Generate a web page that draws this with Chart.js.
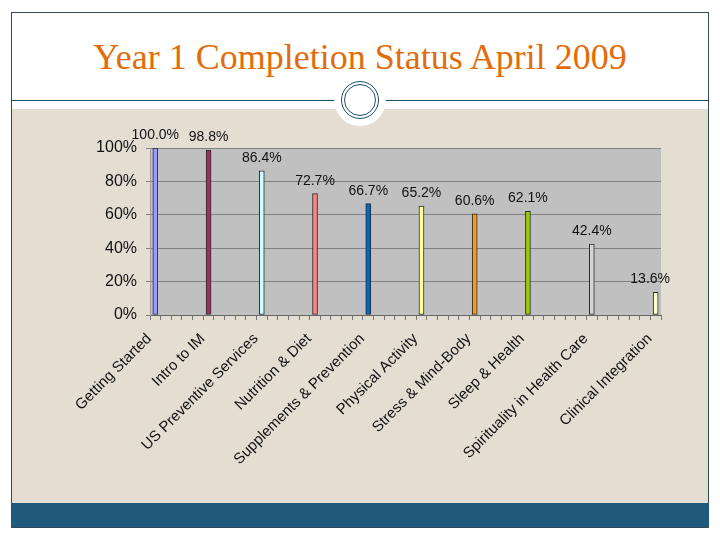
<!DOCTYPE html>
<html lang="en">
  <head>
    <meta charset="UTF-8" />
    <title>Year 1 Completion Status April 2009</title>
    <script src="https://cdn.jsdelivr.net/npm/chart.js"></script>
    <style>
      html, body {
        margin: 0;
        padding: 0;
        width: 720px;
        height: 540px;
        background: #ffffff;
        overflow: hidden;
      }
      .frame {
        position: absolute;
        left: 11px;
        top: 12px;
        width: 696px;
        height: 514px;
        border: 1px solid #2e4a5c;
      }
      .title {
        position: absolute;
        left: 0;
        top: 37px;
        width: 720px;
        text-align: center;
        font-family: "Liberation Serif", "DejaVu Serif", serif;
        font-size: 36px;
        line-height: 40px;
        color: #e36c0a;
      }
      .rule {
        position: absolute;
        left: 12px;
        top: 100px;
        width: 696px;
        height: 1px;
        background: #1f4e6b;
      }
      .beige {
        position: absolute;
        left: 12px;
        top: 109px;
        width: 696px;
        height: 394px;
        background: #e3ddd2;
      }
      .halo {
        position: absolute;
        left: 334px;
        top: 74px;
        width: 52px;
        height: 52px;
        border-radius: 50%;
        background: #ffffff;
      }
      .ring {
        position: absolute;
        left: 341px;
        top: 81px;
        width: 30px;
        height: 30px;
        border-radius: 50%;
        border: 4px double #1f4e6b;
      }
      .footer {
        position: absolute;
        left: 11px;
        top: 503px;
        width: 698px;
        height: 24px;
        background: #1f5a7c;
      }
      #wrap {
        position: absolute;
        left: 0;
        top: 0;
        width: 720px;
        height: 540px;
      }
    </style>
  </head>
  <body>
    <div class="frame"></div>
    <div class="title">Year 1 Completion Status April 2009</div>
    <div class="rule"></div>
    <div class="beige"></div>
    <div class="halo"></div>
    <div class="ring"></div>
    <div class="footer"></div>
    <div id="wrap"><canvas id="completionChart"></canvas></div>

    <script>
      // the source sheet has blank columns between the courses
      const categories = [
        "Getting Started", "", "", "", "",
        "Intro to IM", "", "", "", "",
        "US Preventive Services", "", "", "", "",
        "Nutrition & Diet", "", "", "", "",
        "Supplements & Prevention", "", "", "", "",
        "Physical Activity", "", "", "", "",
        "Stress & Mind-Body", "", "", "", "",
        "Sleep & Health", "", "", "", "", "",
        "Spirituality in Health Care", "", "", "", "", "",
        "Clinical Integration",
      ];
      const completion = [
        100.0, null, null, null, null,
        98.8, null, null, null, null,
        86.4, null, null, null, null,
        72.7, null, null, null, null,
        66.7, null, null, null, null,
        65.2, null, null, null, null,
        60.6, null, null, null, null,
        62.1, null, null, null, null, null,
        42.4, null, null, null, null, null,
        13.6,
      ];
      const barColors = [
        "#9999ff", "#993366", "#ccffff", "#ff8080", "#0066cc",
        "#ffff99", "#f39a1e", "#99cc00", "#d4d4d4", "#ffffcc",
      ];
      const yTicks = [0, 20, 40, 60, 80, 100];

      // one colour per course, in order of the non-empty columns
      let k = 0;
      const fills = completion.map((v) => (v === null ? "#000" : barColors[k++]));

      const plotBackground = {
        id: "plotBackground",
        beforeDraw(chart) {
          const a = chart.chartArea;
          const ctx = chart.ctx;
          ctx.save();
          ctx.fillStyle = "#c0c0c0";
          ctx.fillRect(a.left, a.top, a.right - a.left, a.bottom - a.top);
          ctx.restore();
        },
      };

      const valueLabels = {
        id: "valueLabels",
        afterDatasetsDraw(chart) {
          const ctx = chart.ctx;
          const meta = chart.getDatasetMeta(0);
          ctx.save();
          ctx.font = "14px 'Liberation Sans', Arial, sans-serif";
          ctx.fillStyle = "#111";
          ctx.textAlign = "center";
          ctx.textBaseline = "alphabetic";
          meta.data.forEach((bar, i) => {
            const v = completion[i];
            if (v === null) return;
            const text = v.toFixed(1) + "%";
            const w = ctx.measureText(text).width;
            const x = Math.min(bar.x, chart.chartArea.right + 9 - w / 2);
            ctx.fillText(text, x, bar.y - 9);
          });
          ctx.restore();
        },
      };

      const ctx = document.getElementById("completionChart").getContext("2d");
      const completionChart = new Chart(ctx, {
        type: "bar",
        data: {
          labels: categories,
          datasets: [
            {
              label: "Completion",
              data: completion,
              backgroundColor: fills,
              borderColor: "#2b2b2b",
              borderWidth: 1,
              borderSkipped: false,
              barThickness: 5,
            },
          ],
        },
        options: {
          responsive: true,
          maintainAspectRatio: false,
          animation: false,
          layout: {
            padding: { left: 0, right: 59, top: 148, bottom: 0 },
          },
          plugins: {
            legend: { display: false },
            tooltip: { enabled: false },
          },
          scales: {
            x: {
              grid: {
                display: true,
                drawOnChartArea: false,
                drawTicks: true,
                tickLength: 5,
                color: "#777",
              },
              border: { display: true, color: "#666", width: 1 },
              ticks: {
                autoSkip: false,
                minRotation: 45,
                maxRotation: 45,
                padding: 10,
                labelOffset: -6,
                color: "#111",
                font: { family: "'Liberation Sans', Arial, sans-serif", size: 15 },
              },
              afterFit(scale) {
                scale.height = 225;
              },
            },
            y: {
              min: 0,
              max: 100,
              afterBuildTicks(scale) {
                scale.ticks = yTicks.map((v) => ({ value: v }));
              },
              grid: {
                color: "#808080",
                tickLength: 4,
              },
              border: { display: true, color: "#a0a0a0" },
              ticks: {
                padding: 9,
                color: "#111",
                font: { family: "'Liberation Sans', Arial, sans-serif", size: 16 },
                callback: (v) => v + "%",
              },
              afterFit(scale) {
                scale.width = 150;
              },
            },
          },
        },
        plugins: [plotBackground, valueLabels],
      });
    </script>
  </body>
</html>
